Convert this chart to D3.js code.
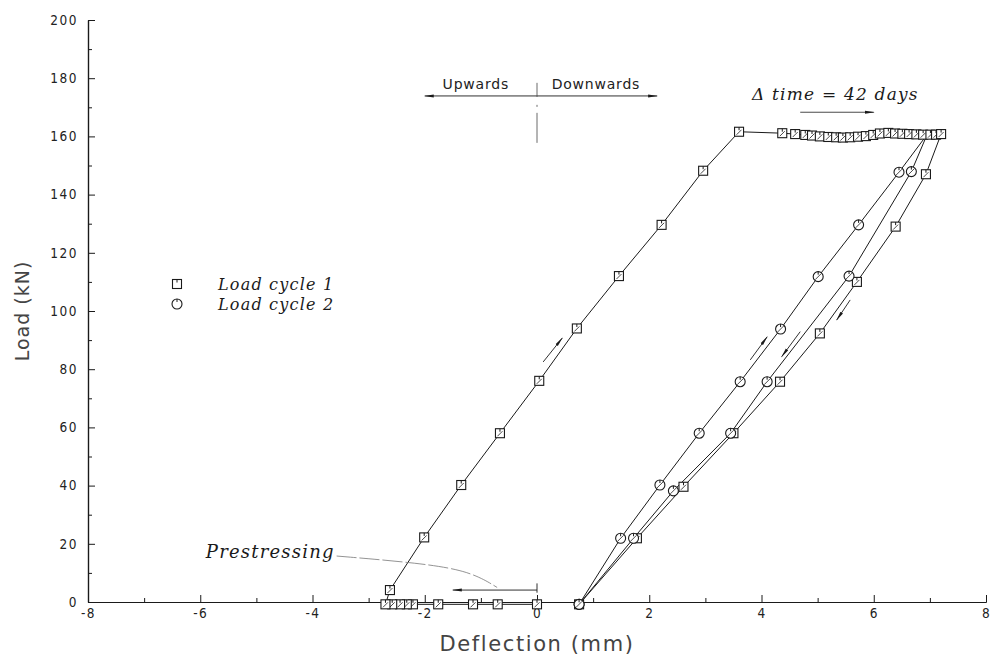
<!DOCTYPE html>
<html>
<head>
<meta charset="utf-8">
<script src="https://cdn.jsdelivr.net/npm/d3@7"></script>
<style>
  html, body { margin: 0; padding: 0; background: #fff; }
  svg { display: block; }
</style>
</head>
<body>
<div id="chart"></div>
<script>
// [deflection mm, load kN]
const cycle1Prestress = [[0, -0.8], [-0.70, -0.8], [-1.14, -0.8], [-1.76, -0.8], [-2.21, -0.8],
  [-2.32, -0.8], [-2.44, -0.8], [-2.58, -0.8], [-2.70, -0.8]];
const cycle1Loading = [[-2.62, 4.1], [-2.01, 22.2], [-1.35, 40.2], [-0.66, 58], [0.04, 76],
  [0.71, 94], [1.46, 112], [2.22, 129.6], [2.96, 148.2], [3.60, 161.6]];
const cycle1Creep = [[4.37, 161.1], [4.60, 160.8], [4.78, 160.5], [4.90, 160.3], [5.04, 160.0],
  [5.19, 159.8], [5.33, 159.7], [5.45, 159.6], [5.58, 159.7], [5.72, 159.9], [5.86, 160.1],
  [5.99, 160.5], [6.11, 161.0], [6.26, 161.2], [6.38, 161.0], [6.51, 160.9], [6.63, 160.8],
  [6.76, 160.7], [6.88, 160.6], [7.01, 160.6], [7.11, 160.6], [7.20, 160.8]];
const cycle1Unloading = [[6.93, 147], [6.39, 129], [5.70, 110], [5.04, 92.3], [4.33, 75.7],
  [3.50, 58], [2.61, 39.6], [1.78, 21.9], [0.75, -0.8]];
const cycle2Loading = [[0.75, -0.8], [1.49, 21.9], [2.19, 40.2], [2.89, 58], [3.62, 75.7],
  [4.34, 93.8], [5.01, 111.8], [5.73, 129.6], [6.45, 147.7], [6.95, 160.6]];
const cycle2Unloading = [[6.67, 147.9], [5.56, 112], [4.10, 75.7], [3.45, 58], [2.43, 38.2],
  [1.72, 21.9], [0.75, -0.8]];

const xTicks = [-8, -6, -4, -2, 0, 2, 4, 6, 8];
const yTicks = [0, 20, 40, 60, 80, 100, 120, 140, 160, 180, 200];
const legendLabels = ['Load cycle 1', 'Load cycle 2'];

const width = 993;
const height = 660;
const margin = {top: 20, right: 7, bottom: 58, left: 88};
const ink = '#1a1a1a';
const tickFont = '"DejaVu Sans Condensed", "DejaVu Sans", sans-serif';
const noteFont = '"DejaVu Serif", "Liberation Serif", serif';

/* Scale */
const xScale = d3.scaleLinear().domain([-8, 8]).range([margin.left, width - margin.right]);
const yScale = d3.scaleLinear().domain([0, 200]).range([height - margin.bottom, margin.top]);

const svg = d3.select('#chart').append('svg')
  .attr('width', width)
  .attr('height', height);

const defs = svg.append('defs');
defs.append('marker')
  .attr('id', 'head')
  .attr('viewBox', '0 0 10 6')
  .attr('refX', 9).attr('refY', 3)
  .attr('markerWidth', 10).attr('markerHeight', 6)
  .attr('markerUnits', 'userSpaceOnUse')
  .attr('orient', 'auto')
  .append('path')
  .attr('d', 'M0,1.5 L10,3 L0,4.5 Z')
  .attr('fill', ink);

/* Axes */
const xAxis = d3.axisBottom(xScale).tickValues(xTicks).tickSizeInner(-7).tickSizeOuter(0)
  .tickPadding(6).tickFormat(d => String(d));
const xMinor = d3.axisBottom(xScale).tickValues(d3.range(-7, 8, 2)).tickSizeInner(-4)
  .tickSizeOuter(0).tickFormat('');
const yAxis = d3.axisLeft(yScale).tickValues(yTicks).tickSizeInner(-7).tickSizeOuter(0)
  .tickPadding(10).tickFormat(d => String(d));
const yMinor = d3.axisLeft(yScale).tickValues(d3.range(10, 200, 20)).tickSizeInner(-4)
  .tickSizeOuter(0).tickFormat('');

function styleAxis(g) {
  g.select('.domain').attr('stroke', ink).attr('stroke-width', 1.2);
  g.selectAll('.tick line').attr('stroke', ink);
  g.selectAll('.tick text')
    .attr('fill', '#222')
    .style('font-family', tickFont)
    .style('font-size', '13.5px')
    .style('letter-spacing', '1.5px');
}

svg.append('g')
  .attr('transform', `translate(0, ${yScale(0)})`)
  .call(xAxis).call(styleAxis);
svg.append('g')
  .attr('transform', `translate(0, ${yScale(0)})`)
  .call(xMinor).call(styleAxis);
svg.append('g')
  .attr('transform', `translate(${xScale(-8)}, 0)`)
  .call(yAxis).call(styleAxis);
svg.append('g')
  .attr('transform', `translate(${xScale(-8)}, 0)`)
  .call(yMinor).call(styleAxis);

/* Axis titles */
svg.append('text')
  .attr('x', xScale(0)).attr('y', 651)
  .attr('text-anchor', 'middle')
  .style('font-family', '"DejaVu Sans", sans-serif')
  .style('font-size', '21px')
  .style('letter-spacing', '1.6px')
  .attr('fill', '#444')
  .text('Deflection (mm)');

svg.append('text')
  .attr('transform', `translate(29, ${yScale(100)}) rotate(-90)`)
  .attr('text-anchor', 'middle')
  .style('font-family', '"DejaVu Sans", sans-serif')
  .style('font-size', '19px')
  .style('letter-spacing', '1px')
  .attr('fill', '#444')
  .text('Load (kN)');

/* Lines */
const line = d3.line()
  .x(d => xScale(d[0]))
  .y(d => yScale(d[1]));

const cycle1Path = [...cycle1Prestress, ...cycle1Loading, ...cycle1Creep, ...cycle1Unloading];
const cycle2Path = [...cycle2Loading, ...cycle2Unloading];

const lines = svg.append('g').attr('class', 'lines');
[cycle1Path, cycle2Path].forEach(p => {
  lines.append('path')
    .attr('d', line(p))
    .attr('fill', 'none')
    .attr('stroke', ink)
    .attr('stroke-width', 1);
});

/* Markers */
function drawSquare(g, x, y, slash) {
  g.append('rect')
    .attr('x', x - 4.5).attr('y', y - 4.5)
    .attr('width', 9).attr('height', 9)
    .attr('fill', '#fff').attr('stroke', ink).attr('stroke-width', 1.1);
  g.append('line')
    .attr('x1', x).attr('x2', x).attr('y1', y - 4.5).attr('y2', y - 1.5)
    .attr('stroke', ink);
  if (slash) {
    g.append('line')
      .attr('x1', x - 2.5).attr('x2', x + 2.5).attr('y1', y + 3).attr('y2', y - 2)
      .attr('stroke', ink).attr('stroke-width', 0.8);
  }
}

function drawCircle(g, x, y, slash) {
  g.append('circle')
    .attr('cx', x).attr('cy', y).attr('r', 5)
    .attr('fill', '#fff').attr('stroke', ink).attr('stroke-width', 1.1);
  g.append('line')
    .attr('x1', x).attr('x2', x).attr('y1', y - 5).attr('y2', y - 2)
    .attr('stroke', ink);
  if (slash) {
    g.append('line')
      .attr('x1', x - 3).attr('x2', x + 3).attr('y1', y + 3).attr('y2', y - 3)
      .attr('stroke', ink).attr('stroke-width', 0.8);
  }
}

const marks = svg.append('g').attr('class', 'marks');
[...cycle1Prestress, ...cycle1Loading, ...cycle1Creep, ...cycle1Unloading].forEach(d => {
  drawSquare(marks, xScale(d[0]), yScale(d[1]), true);
});
[...cycle2Loading.slice(0, -1), ...cycle2Unloading].forEach(d => {
  drawCircle(marks, xScale(d[0]), yScale(d[1]), true);
});

/* Legend */
const legend = svg.append('g').attr('transform', 'translate(177, 284)');
legendLabels.forEach((label, i) => {
  const row = legend.append('g').attr('transform', `translate(0, ${i * 20})`);
  if (i === 0) drawSquare(row, 0, 0, false);
  else drawCircle(row, 0, 0, false);
  row.append('text')
    .attr('x', 41).attr('y', 6)
    .style('font-family', noteFont)
    .style('font-style', 'italic')
    .style('font-size', '16px')
    .style('letter-spacing', '1.2px')
    .attr('fill', ink)
    .text(label);
});

/* Annotations */
const notes = svg.append('g').attr('class', 'notes');

function arrow(x1, y1, x2, y2, width) {
  notes.append('line')
    .attr('x1', xScale(x1)).attr('y1', yScale(y1))
    .attr('x2', xScale(x2)).attr('y2', yScale(y2))
    .attr('stroke', ink)
    .attr('stroke-width', width || 0.9)
    .attr('marker-end', 'url(#head)');
}

// Upwards / Downwards
arrow(0, 173.9, -2.0, 173.9);
arrow(0, 173.9, 2.14, 173.9);
notes.append('line')
  .attr('x1', xScale(0)).attr('x2', xScale(0))
  .attr('y1', yScale(178.4)).attr('y2', yScale(157.7))
  .attr('stroke', '#444').attr('stroke-width', 0.8)
  .attr('stroke-dasharray', '14,8,2,6,30');
notes.append('text')
  .attr('x', xScale(-1.09)).attr('y', yScale(176.3))
  .attr('text-anchor', 'middle')
  .style('font-family', '"DejaVu Sans", sans-serif')
  .style('font-size', '14px').style('letter-spacing', '0.8px')
  .attr('fill', '#222')
  .text('Upwards');
notes.append('text')
  .attr('x', xScale(1.05)).attr('y', yScale(176.3))
  .attr('text-anchor', 'middle')
  .style('font-family', '"DejaVu Sans", sans-serif')
  .style('font-size', '14px').style('letter-spacing', '0.8px')
  .attr('fill', '#222')
  .text('Downwards');

// time
notes.append('text')
  .attr('x', xScale(3.83)).attr('y', yScale(172.5))
  .style('font-family', noteFont)
  .style('font-style', 'italic')
  .style('font-size', '17px').style('letter-spacing', '1.2px')
  .attr('fill', ink)
  .text('\u0394 time = 42 days');
arrow(4.69, 168.3, 6.0, 168.3, 0.8);

// prestressing
notes.append('text')
  .attr('x', xScale(-5.9)).attr('y', yScale(15.0))
  .style('font-family', noteFont)
  .style('font-style', 'italic')
  .style('font-size', '18px').style('letter-spacing', '1.2px')
  .attr('fill', ink)
  .text('Prestressing');
notes.append('path')
  .attr('d', d3.line().curve(d3.curveBasis)
    .x(d => xScale(d[0])).y(d => yScale(d[1]))([[-3.57, 15.8], [-2.09, 13.4], [-1.19, 10.6], [-0.71, 5.0]]))
  .attr('fill', 'none')
  .attr('stroke', '#777').attr('stroke-width', 0.8)
  .attr('stroke-dasharray', '20,3');
arrow(0, 4.1, -1.5, 4.1);
notes.append('line')
  .attr('x1', xScale(0)).attr('x2', xScale(0))
  .attr('y1', yScale(6.4)).attr('y2', yScale(3.2))
  .attr('stroke', ink).attr('stroke-width', 0.9);

// direction arrows along the branches
arrow(0.11, 82.5, 0.45, 90.7);
arrow(3.80, 83.2, 4.10, 91.1);
arrow(4.69, 92.9, 4.36, 84.3);
arrow(5.58, 103.8, 5.34, 96.9);
</script>
</body>
</html>
